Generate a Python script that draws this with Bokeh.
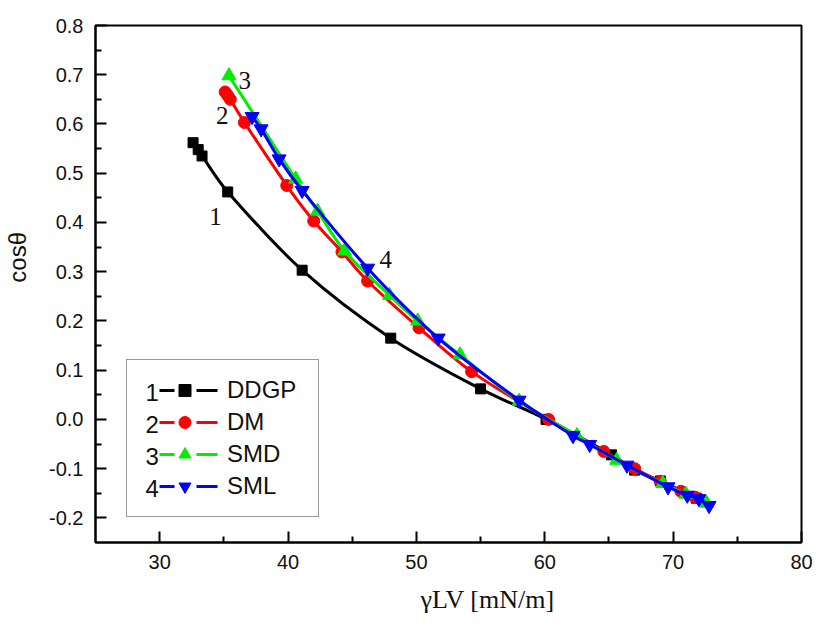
import math
import numpy as np
from bokeh.plotting import figure
from bokeh.models import Label, Legend, LegendItem, FixedTicker, PrintfTickFormatter
from bokeh.embed import file_html
from bokeh.resources import INLINE

# ---------------- data ----------------
ddgp_x = [32.6, 33.0, 33.3, 35.3, 41.1, 48.0, 55.0, 60.1, 65.2, 67.0, 69.0, 71.8]
ddgp_y = [0.562, 0.548, 0.535, 0.462, 0.303, 0.165, 0.062, 0.0, -0.072, -0.103, -0.125, -0.160]

dm_x = [35.1, 35.3, 35.5, 36.6, 39.9, 42.0, 44.2, 46.2, 50.2, 54.3, 60.3, 64.6, 67.0, 69.0, 70.6, 71.7, 72.3]
dm_y = [0.665, 0.658, 0.650, 0.603, 0.475, 0.403, 0.340, 0.281, 0.186, 0.097, 0.0, -0.065, -0.100, -0.126, -0.146, -0.158, -0.165]

smd_x = [35.4, 40.6, 42.3, 44.4, 47.9, 50.1, 53.4, 58.0, 62.5, 65.6, 69.2, 71.0, 72.6]
smd_y = [0.698, 0.488, 0.423, 0.342, 0.252, 0.200, 0.131, 0.037, -0.033, -0.083, -0.130, -0.152, -0.170]

sml_x = [37.2, 37.9, 39.3, 41.1, 46.2, 51.7, 58.0, 62.2, 63.5, 66.4, 69.6, 71.1, 72.0, 72.8]
sml_y = [0.615, 0.590, 0.529, 0.465, 0.307, 0.165, 0.039, -0.033, -0.051, -0.093, -0.137, -0.154, -0.161, -0.175]

series_names = ["DDGP", "DM", "SMD", "SML"]
series_numbers = ["1", "2", "3", "4"]

x_ticks = [30, 40, 50, 60, 70, 80]
x_minor = [35, 45, 55, 65, 75]
y_ticks = [-0.2, -0.1, 0.0, 0.1, 0.2, 0.3, 0.4, 0.5, 0.6, 0.7, 0.8]
y_minor = [-0.15, -0.05, 0.05, 0.15, 0.25, 0.35, 0.45, 0.55, 0.65, 0.75]

NB = "\u00a0"

# ---------------- figure ----------------
p = figure(width=816, height=628, x_range=(25, 80), y_range=(-0.25, 0.8),
           output_backend="svg", toolbar_location=None,
           min_border_left=95, min_border_right=15, min_border_top=25, min_border_bottom=86)
p.background_fill_color = "white"
p.border_fill_color = "white"
p.grid.visible = False
p.outline_line_color = "black"
p.outline_line_width = 2

p.xaxis.ticker = FixedTicker(ticks=x_ticks, minor_ticks=x_minor)
p.yaxis.ticker = FixedTicker(ticks=y_ticks, minor_ticks=y_minor)
p.yaxis.formatter = PrintfTickFormatter(format="%.1f")
for ax in (p.xaxis[0], p.yaxis[0]):
    ax.axis_line_width = 2
    ax.axis_line_color = "black"
    ax.major_tick_in = 11
    ax.major_tick_out = 0
    ax.minor_tick_in = 6
    ax.minor_tick_out = 0
    ax.major_tick_line_width = 2
    ax.minor_tick_line_width = 2
    ax.major_tick_line_color = "black"
    ax.minor_tick_line_color = "black"
    ax.major_label_text_font = "Liberation Sans"
    ax.major_label_text_font_size = "20px"
    ax.major_label_text_color = "#111111"
    ax.major_label_standoff = 12
    ax.axis_label_text_font_style = "normal"
    ax.axis_label_text_color = "#111111"

# axis titles (leading no-break spaces shift the visible text toward the reference position)
p.yaxis.axis_label = NB * 8 + "cosθ"
p.yaxis.axis_label_text_font = "Liberation Sans"
p.yaxis.axis_label_text_font_size = "24px"
p.yaxis.axis_label_standoff = 15
p.xaxis.axis_label = NB * 12 + "γLV [mN/m]"
p.xaxis.axis_label_text_font = "Liberation Serif"
p.xaxis.axis_label_text_font_size = "26px"
p.xaxis.axis_label_standoff = 13


# ---------------- smooth curve through the read points (cubic Bezier segments) ----------------
def bezier_through(xs, ys, kx=12.84, ky=492.5):
    X = np.asarray(xs, float) * kx
    Y = np.asarray(ys, float) * ky
    n = len(X)
    tx = np.zeros(n)
    ty = np.zeros(n)
    for i in range(n):
        a, b = max(i - 1, 0), min(i + 1, n - 1)
        dx, dy = X[b] - X[a], Y[b] - Y[a]
        L = math.hypot(dx, dy) or 1.0
        tx[i], ty[i] = dx / L, dy / L
    seg = {k: [] for k in ("x0", "y0", "x1", "y1", "cx0", "cy0", "cx1", "cy1")}
    for i in range(n - 1):
        d = math.hypot(X[i + 1] - X[i], Y[i + 1] - Y[i]) / 3.0
        seg["x0"].append(X[i] / kx)
        seg["y0"].append(Y[i] / ky)
        seg["x1"].append(X[i + 1] / kx)
        seg["y1"].append(Y[i + 1] / ky)
        seg["cx0"].append((X[i] + tx[i] * d) / kx)
        seg["cy0"].append((Y[i] + ty[i] * d) / ky)
        seg["cx1"].append((X[i + 1] - tx[i + 1] * d) / kx)
        seg["cy1"].append((Y[i + 1] - ty[i + 1] * d) / ky)
    return seg


# ---------------- series ----------------
specs = [
    (ddgp_x, ddgp_y, "black", "square", 10),
    (dm_x, dm_y, "#FF0000", "circle", 12),
    (smd_x, smd_y, "#00EE00", "triangle", 14),
    (sml_x, sml_y, "#0000FF", "inverted_triangle", 14),
]
items = []
for (xs, ys, col, mk, sz), name in zip(specs, series_names):
    s = bezier_through(xs, ys)
    p.bezier(x0=s["x0"], y0=s["y0"], x1=s["x1"], y1=s["y1"],
             cx0=s["cx0"], cy0=s["cy0"], cx1=s["cx1"], cy1=s["cy1"],
             line_color=col, line_width=3, line_cap="round")
    p.scatter(xs, ys, marker=mk, size=sz, color=col)
    # legend-only glyphs (NaN data: nothing drawn in the plot)
    lg = p.line(np.array([np.nan]), np.array([np.nan]), line_color=col, line_width=3,
                line_dash="0 17 15 22 21 40")
    lm = p.scatter(np.array([np.nan]), np.array([np.nan]), marker=mk, size=sz, color=col)
    items.append(LegendItem(label=name + NB, renderers=[lg, lm]))

legend = Legend(items=items, location=(31, 25), glyph_width=85, glyph_height=30,
                label_height=30, label_standoff=0, spacing=2, padding=15,
                label_text_font="Liberation Sans", label_text_font_size="24px",
                label_text_color="#111111",
                border_line_color="#333333", border_line_width=1.5,
                background_fill_alpha=0.0)
p.add_layout(legend)

# numbers in front of the legend glyphs
for i, num in enumerate(series_numbers):
    p.add_layout(Label(x=63.3, y=150.3 - 32 * i, x_units="screen", y_units="screen",
                       text=num, text_align="right", text_baseline="middle",
                       text_font="Liberation Sans", text_font_size="24px",
                       text_color="#111111", level="overlay"))

# curve numbers inside the plot
for num, (lx, ly) in zip(series_numbers, [(34.35, 0.413), (34.87, 0.617), (36.62, 0.688), (47.62, 0.325)]):
    p.add_layout(Label(x=lx, y=ly, text=num, text_align="center", text_baseline="middle",
                       text_font="Liberation Serif", text_font_size="25px",
                       text_color="#111111", level="overlay"))

open("out.html", "w").write(file_html(p, INLINE))
